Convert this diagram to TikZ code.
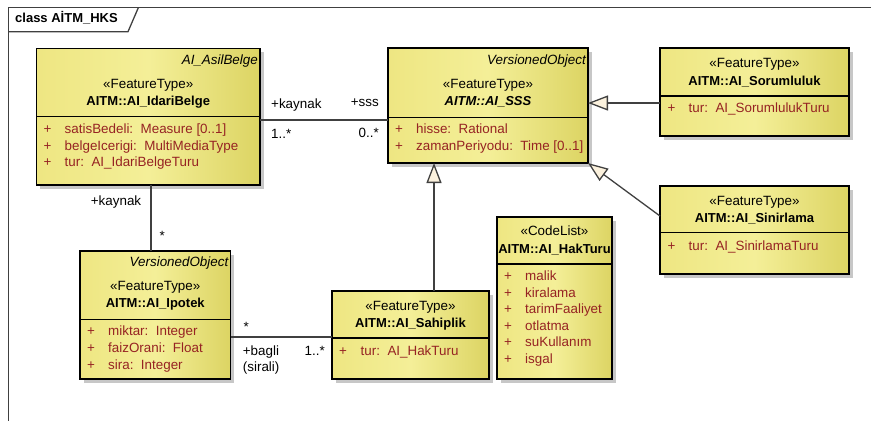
\documentclass[tikz,border=0pt]{standalone}
\usepackage{fontspec}
\setmainfont{Liberation Sans}
\usetikzlibrary{arrows.meta,shadows}
\definecolor{uL}{HTML}{EEE682}
\definecolor{uM}{HTML}{F4EF98}
\definecolor{uR}{HTML}{DCD463}
\definecolor{attrc}{RGB}{150,35,35}
\definecolor{connc}{HTML}{404040}
\definecolor{tric}{HTML}{FBF1DD}
\begin{document}
\begin{tikzpicture}[x=1pt,y=-1pt,
  font=\fontsize{13.4}{16}\selectfont,
  umlbox/.style={draw=black, line width=1.2pt, left color=uL, right color=uR, middle color=uM,
    inner sep=0pt, outer sep=0pt, anchor=north west,
    drop shadow={fill=black!22, opacity=1, shadow xshift=3.5pt, shadow yshift=-3.5pt}},
  sepline/.style={draw=black, line width=1.2pt},
  tc/.style={inner sep=0pt, anchor=base},
  tl/.style={inner sep=0pt, anchor=base west},
  tr/.style={inner sep=0pt, anchor=base east},
  parent/.style={tr, font=\fontsize{13.4}{16}\selectfont\itshape},
  stereo/.style={tc},
  cname/.style={tc, font=\fontsize{13}{16}\selectfont\bfseries},
  attrp/.style={tl, text=attrc},
  attrt/.style={tl, text=attrc},
  conn/.style={draw=connc, line width=1.3pt},
  gen/.style={conn, -{Triangle[length=20pt,width=15pt,fill=tric]}},
  frameline/.style={draw=connc, line width=1.3pt}
]
\useasboundingbox (0,0) rectangle (871,421);

% frame
\coordinate (fTL) at (8.3,7.3);
\coordinate (fTR) at (871,7.3);
\coordinate (fBL) at (8.3,421);
\coordinate (tabA) at (8.3,31.7);
\coordinate (tabB) at (128,31.7);
\coordinate (tabC) at (138.5,7.3);
\draw[frameline] (fTR) -- (fTL) -- (fBL);
\draw[frameline] (tabA) -- (tabB) -- (tabC);
\node[tl, font=\fontsize{13}{16}\selectfont\bfseries] (ftitle) at (15,22.7) {class AİTM\_HKS};

% boxes
\node[umlbox, minimum width=223.5pt, minimum height=136.5pt] (idari) at (36.5,48.5) {};
\node[umlbox, minimum width=200pt, minimum height=115pt] (sss) at (388,48) {};
\node[umlbox, minimum width=189pt, minimum height=88pt] (soru) at (660,48) {};
\node[umlbox, minimum width=189pt, minimum height=88pt] (sinir) at (660,186) {};
\node[umlbox, minimum width=150.5pt, minimum height=128pt] (ipotek) at (80,251) {};
\node[umlbox, minimum width=157pt, minimum height=88pt] (sahip) at (332,291) {};
\node[umlbox, minimum width=115pt, minimum height=162pt] (hak) at (497,217) {};

% separators
\draw[sepline] ([yshift=-68.2pt]idari.north west) -- ([yshift=-68.2pt]idari.north east);
\draw[sepline] ([yshift=-69.3pt]sss.north west) -- ([yshift=-69.3pt]sss.north east);
\draw[sepline] ([yshift=-48pt]soru.north west) -- ([yshift=-48pt]soru.north east);
\draw[sepline] ([yshift=-46.5pt]sinir.north west) -- ([yshift=-46.5pt]sinir.north east);
\draw[sepline] ([yshift=-68.3pt]ipotek.north west) -- ([yshift=-68.3pt]ipotek.north east);
\draw[sepline] ([yshift=-47pt]sahip.north west) -- ([yshift=-47pt]sahip.north east);
\draw[sepline] ([yshift=-47pt]hak.north west) -- ([yshift=-47pt]hak.north east);

% idari texts
\node[parent] (i0) at (258,64) {AI\_AsilBelge};
\node[stereo] (i1) at (148.25,88.3) {«FeatureType»};
\node[cname] (i2) at (148.25,105) {AITM::AI\_IdariBelge};
\node[attrp] (i3p) at (43.5,133.3) {+};
\node[attrt] (i3) at (64.5,133.3) {satisBedeli:\ \ Measure [0..1]};
\node[attrp] (i4p) at (43.5,150) {+};
\node[attrt] (i4) at (64.5,150) {belgeIcerigi:\ \ MultiMediaType};
\node[attrp] (i5p) at (43.5,166.7) {+};
\node[attrt] (i5) at (64.5,166.7) {tur:\ \ AI\_IdariBelgeTuru};

% sss texts
\node[parent] (s0) at (586,64.3) {VersionedObject};
\node[stereo] (s1) at (488,88.3) {«FeatureType»};
\node[cname, font=\fontsize{13}{16}\selectfont\bfseries\itshape] (s2) at (488,105) {AITM::AI\_SSS};
\node[attrp] (s3p) at (395,133.3) {+};
\node[attrt] (s3) at (416,133.3) {hisse:\ \ Rational};
\node[attrp] (s4p) at (395,150) {+};
\node[attrt] (s4) at (416,150) {zamanPeriyodu:\ \ Time [0..1]};

% sorumluluk texts
\node[stereo] (r1) at (754.5,67.7) {«FeatureType»};
\node[cname] (r2) at (754.5,85) {AITM::AI\_Sorumluluk};
\node[attrp] (r3p) at (667.5,112.7) {+};
\node[attrt] (r3) at (688.5,112.7) {tur:\ \ AI\_SorumlulukTuru};

% sinirlama texts
\node[stereo] (n1) at (754.5,205) {«FeatureType»};
\node[cname] (n2) at (754.5,222.3) {AITM::AI\_Sinirlama};
\node[attrp] (n3p) at (667.5,250) {+};
\node[attrt] (n3) at (688.5,250) {tur:\ \ AI\_SinirlamaTuru};

% ipotek texts
\node[parent] (p0) at (228.5,266.7) {VersionedObject};
\node[stereo] (p1) at (155.25,290.7) {«FeatureType»};
\node[cname] (p2) at (155.25,307.7) {AITM::AI\_Ipotek};
\node[attrp] (p3p) at (87,335.7) {+};
\node[attrt] (p3) at (108,335.7) {miktar:\ \ Integer};
\node[attrp] (p4p) at (87,352.7) {+};
\node[attrt] (p4) at (108,352.7) {faizOrani:\ \ Float};
\node[attrp] (p5p) at (87,369) {+};
\node[attrt] (p5) at (108,369) {sira:\ \ Integer};

% sahiplik texts
\node[stereo] (h1) at (410.5,310) {«FeatureType»};
\node[cname] (h2) at (410.5,327.3) {AITM::AI\_Sahiplik};
\node[attrp] (h3p) at (339,355) {+};
\node[attrt] (h3) at (360.5,355) {tur:\ \ AI\_HakTuru};

% haktur texts
\node[stereo] (k1) at (554.5,235) {«CodeList»};
\node[cname] (k2) at (554.5,253.3) {AITM::AI\_HakTuru};
\node[attrp] (k3p) at (504,280.7) {+};
\node[attrt] (k3) at (525,280.7) {malik};
\node[attrp] (k4p) at (504,297.2) {+};
\node[attrt] (k4) at (525,297.2) {kiralama};
\node[attrp] (k5p) at (504,313.7) {+};
\node[attrt] (k5) at (525,313.7) {tarimFaaliyet};
\node[attrp] (k6p) at (504,330.2) {+};
\node[attrt] (k6) at (525,330.2) {otlatma};
\node[attrp] (k7p) at (504,346.7) {+};
\node[attrt] (k7) at (525,346.7) {suKullanım};
\node[attrp] (k8p) at (504,363.2) {+};
\node[attrt] (k8) at (525,363.2) {isgal};

% connectors
\draw[conn] ([yshift=-3.25pt]idari.east) -- ([yshift=-3.25pt]idari.east -| sss.west);
\draw[conn] ([xshift=2.75pt]idari.south) -- ([xshift=2.75pt]idari.south |- ipotek.north);
\draw[conn] ([yshift=-22pt]ipotek.east) -- ([yshift=-22pt]ipotek.east -| sahip.west);
\draw[gen] ([xshift=23.5pt]sahip.north) -- ([xshift=23.5pt]sahip.north |- sss.south);
\draw[gen] ([yshift=-11pt]soru.west) -- ([yshift=-11pt]soru.west -| sss.east);
\draw[gen] ([yshift=14pt]sinir.west) -- (sss.south east);

% connector labels
\node[tl] (l1) at (271,108.3) {+kaynak};
\node[tl] (l2) at (271,138) {1..*};
\node[tr] (l3) at (379,106.5) {+sss};
\node[tr] (l4) at (379,137) {0..*};
\node[tl] (l5) at (90.7,205) {+kaynak};
\node[tl] (l6) at (159.5,240) {*};
\node[tl] (l7) at (243.5,331.5) {*};
\node[tl] (l8) at (242.7,355) {+bagli};
\node[tl] (l9) at (242.7,371.7) {(sirali)};
\node[tr] (l10) at (325,355) {1..*};
\end{tikzpicture}
\end{document}
